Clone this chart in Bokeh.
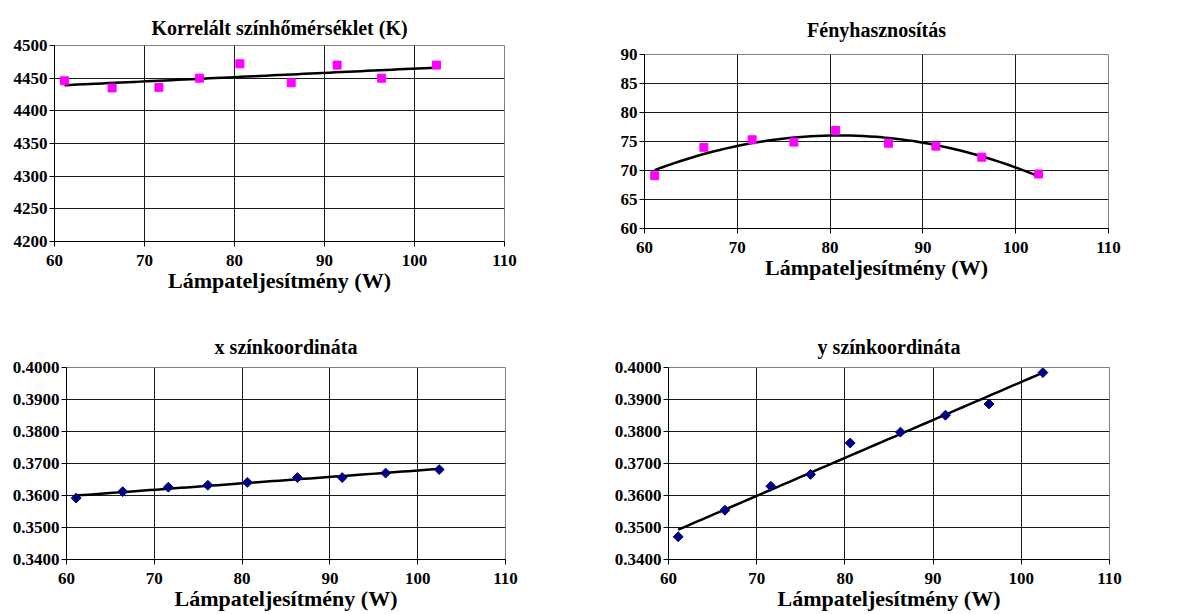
import numpy as np
from bokeh.plotting import figure
from bokeh.layouts import column, row
from bokeh.models import FixedTicker, PrintfTickFormatter, Range1d
from bokeh.embed import file_html
from bokeh.resources import INLINE

# ---- data ----
power = [61.1, 66.4, 71.6, 76.1, 80.6, 86.3, 91.4, 96.35, 102.45]
cct = [4446, 4435, 4436, 4450, 4472, 4443, 4470, 4450, 4470]
efficacy = [69.1, 74.0, 75.3, 74.9, 76.9, 74.7, 74.2, 72.3, 69.4]
x_coord = [0.3592, 0.3612, 0.3626, 0.3632, 0.3641, 0.3656, 0.3656, 0.3670, 0.3681]
y_coord = [0.3471, 0.3554, 0.3629, 0.3666, 0.3764, 0.3798, 0.3851, 0.3886, 0.3984]

x_ticks = [60, 70, 80, 90, 100, 110]
cct_ticks = [4200, 4250, 4300, 4350, 4400, 4450, 4500]
eff_ticks = [60, 65, 70, 75, 80, 85, 90]
coord_ticks = [0.34, 0.35, 0.36, 0.37, 0.38, 0.39, 0.40]

titles = ["Korrelált színhőmérséklet (K)", "Fényhasznosítás", "x színkoordináta", "y színkoordináta"]
x_label = "Lámpateljesítmény (W)"

FONT = "Liberation Serif"


def panel(title, ys, yticks, fmt, marker, color, deg, fw, fh, bl, br, bt, bb, tstand):
    p = figure(frame_width=fw, frame_height=fh, min_border_left=bl, min_border_right=br,
               min_border_top=bt, min_border_bottom=bb, output_backend="svg",
               toolbar_location=None, x_range=Range1d(x_ticks[0], x_ticks[-1]),
               y_range=Range1d(yticks[0], yticks[-1]), title=title)
    p.title.text_font = FONT
    p.title.text_font_style = "bold"
    p.title.text_font_size = "20px"
    p.title.text_color = "black"
    p.title.align = "center"
    p.title.standoff = tstand
    p.outline_line_color = "#808080"
    p.outline_line_width = 1
    p.background_fill_color = "white"
    p.border_fill_color = "white"

    p.xaxis.ticker = FixedTicker(ticks=x_ticks)
    p.yaxis.ticker = FixedTicker(ticks=yticks)
    p.xgrid.ticker = FixedTicker(ticks=x_ticks[1:-1])
    p.ygrid.ticker = FixedTicker(ticks=yticks[1:-1])
    p.yaxis.formatter = PrintfTickFormatter(format=fmt)
    for ax in (p.xaxis, p.yaxis):
        ax.axis_line_color = "black"
        ax.axis_line_width = 1
        ax.major_tick_line_color = "black"
        ax.major_tick_out = 5
        ax.major_tick_in = 0
        ax.minor_tick_line_color = None
        ax.major_label_text_font = FONT
        ax.major_label_text_font_style = "bold"
        ax.major_label_text_font_size = "17px"
        ax.major_label_text_color = "black"
    p.xaxis.major_label_standoff = 8
    p.yaxis.major_label_standoff = 2
    p.xaxis.axis_label = x_label
    p.xaxis.axis_label_text_font = FONT
    p.xaxis.axis_label_text_font_style = "bold"
    p.xaxis.axis_label_text_font_size = "22px"
    p.xaxis.axis_label_text_color = "black"
    p.xaxis.axis_label_standoff = -1
    for g in (p.xgrid, p.ygrid):
        g.grid_line_color = "#1a1a1a"
        g.grid_line_width = 1

    coef = np.polyfit(power, ys, deg)
    xs_fit = np.linspace(power[0], power[-1], 60)
    p.line(xs_fit, np.polyval(coef, xs_fit), line_color="black", line_width=2.5)
    if marker == "square":
        p.scatter(power, ys, marker="square", size=8, fill_color=color, line_color=color)
    else:
        p.scatter(power, ys, marker="square", size=7, angle=np.pi / 4,
                  fill_color=color, line_color=color)
    return p


p1 = panel(titles[0], cct, cct_ticks, "%d", "square", "#FF00FF", 1,
           450, 196, 54, 96, 45, 59, 13)
p2 = panel(titles[1], efficacy, eff_ticks, "%d", "square", "#FF00FF", 2,
           464, 174, 44, 91, 54, 72, 27)
p3 = panel(titles[2], x_coord, coord_ticks, "%.4f", "diamond", "#000080", 1,
           439, 192, 66, 95, 67, 55, 20)
p4 = panel(titles[3], y_coord, coord_ticks, "%.4f", "diamond", "#000080", 1,
           441, 192, 68, 90, 67, 55, 20)

layout = column(row(column(p1), column(p2), spacing=0),
                row(column(p3), column(p4), spacing=0), spacing=0)
open("out.html", "w").write(file_html(layout, INLINE))
